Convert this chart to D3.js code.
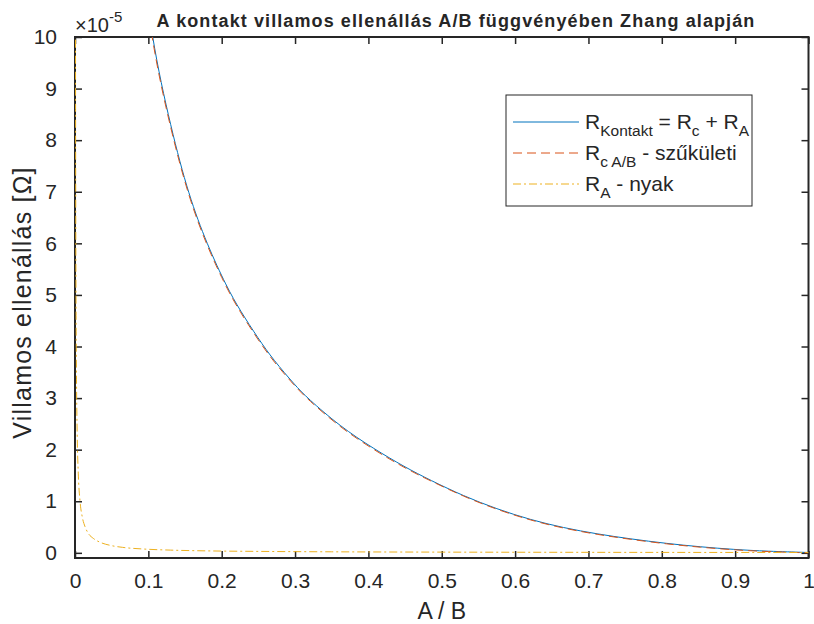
<!DOCTYPE html>
<html><head><meta charset="utf-8">
<script src="https://cdn.jsdelivr.net/npm/d3@7/dist/d3.min.js"></script>
<style>body{margin:0;background:#fff}svg{display:block}text{font-family:"Liberation Sans",Arial,sans-serif;fill:#262626}</style>
</head><body>
<script>
// Data (values in units of 1e-5 Ohm)
const xKontakt = [0.09,0.1037,0.131,0.155,0.18,0.207,0.225,0.25,0.2705,0.3,0.316,0.3615,0.407,0.45,0.484,0.53,0.575,0.621,0.666,0.712,0.757,0.807,0.853,0.898,0.944,1.0];
const rKontakt = [11.8,10.0,8.22,6.93,5.98,5.15,4.70,4.15,3.74,3.25,3.01,2.45,2.02,1.66,1.41,1.10,0.85,0.64,0.485,0.365,0.27,0.18,0.115,0.065,0.03,0.007];
const rSzukuleti = [11.72,9.93,8.17,6.89,5.94,5.12,4.67,4.12,3.71,3.23,2.99,2.43,2.00,1.64,1.40,1.09,0.84,0.63,0.475,0.355,0.261,0.171,0.107,0.057,0.023,0.0];
const xNyak = [0.0006,0.0008,0.001,0.0015,0.002,0.003,0.0045,0.0068,0.01,0.0136,0.018,0.025,0.035,0.048,0.065,0.0935,0.13,0.18,0.25,0.35,0.5,0.7,1.0];
const rNyak = [11.5,8.6,6.9,4.6,3.45,2.3,1.53,1.01,0.69,0.51,0.38,0.28,0.2,0.145,0.106,0.074,0.053,0.038,0.028,0.02,0.014,0.01,0.007];
const xTicks = [0,0.1,0.2,0.3,0.4,0.5,0.6,0.7,0.8,0.9,1];
const yTicks = [0,1,2,3,4,5,6,7,8,9,10];
const title = "A kontakt villamos ellenállás A/B függvényében Zhang alapján";
const xLabel = "A / B";
const yLabel = "Villamos ellenállás [Ω]";

const W = 814, H = 624;
const L = 75, R = 808.5, T = 37, B = 558;
const svg = d3.select("body").append("svg").attr("width", W).attr("height", H);
const x = d3.scaleLinear().domain([0, 1]).range([L, R]);
const y = d3.scaleLinear().domain([-0.1, 10]).range([B, T]);

svg.append("clipPath").attr("id", "clip").append("rect")
  .attr("x", L).attr("y", T).attr("width", R - L).attr("height", B - T);

const ink = "#262626";
function styleAxis(g) {
  g.select(".domain").remove();
  g.selectAll(".tick line").attr("stroke", ink).attr("stroke-width", 1.5);
  g.selectAll(".tick text").attr("fill", ink).style("font-size", "21px").style("font-family", '"Liberation Sans",Arial,sans-serif');
}
const fmtX = d => d === 0 ? "0" : d === 1 ? "1" : d3.format(".1f")(d);
svg.append("g").attr("transform", `translate(0,${B})`)
  .call(d3.axisBottom(x).tickValues(xTicks).tickFormat(fmtX).tickSize(-7).tickPadding(15))
  .call(styleAxis);
svg.append("g").attr("transform", `translate(0,${T})`)
  .call(d3.axisTop(x).tickValues(xTicks).tickFormat("").tickSize(-7))
  .call(styleAxis);
svg.append("g").attr("transform", `translate(${L},0)`)
  .call(d3.axisLeft(y).tickValues(yTicks).tickFormat(d3.format("d")).tickSize(-7).tickPadding(18))
  .call(styleAxis);
svg.append("g").attr("transform", `translate(${R},0)`)
  .call(d3.axisRight(y).tickValues(yTicks).tickFormat("").tickSize(-7))
  .call(styleAxis);

svg.append("rect").attr("x", L).attr("y", T).attr("width", R - L).attr("height", B - T)
  .attr("fill", "none").attr("stroke", ink).attr("stroke-width", 2);

const plot = svg.append("g").attr("clip-path", "url(#clip)");
const line = d3.line().x(d => x(d[0])).y(d => y(d[1])).curve(d3.curveBasis);
const lineN = d3.line().x(d => x(d[0])).y(d => y(d[1])).curve(d3.curveMonotoneX);
plot.append("path").datum(d3.zip(xKontakt, rKontakt)).attr("d", line)
  .attr("fill", "none").attr("stroke", "#0072BD").attr("stroke-width", 1);
plot.append("path").datum(d3.zip(xKontakt, rSzukuleti)).attr("d", line)
  .attr("fill", "none").attr("stroke", "#D95319").attr("stroke-width", 1).attr("stroke-dasharray", "9,5");
plot.append("path").datum(d3.zip(xNyak, rNyak)).attr("d", lineN)
  .attr("fill", "none").attr("stroke", "#EDB120").attr("stroke-width", 1).attr("stroke-dasharray", "8,3,2,3");

// Title & exponent
svg.append("text").attr("x", 456).attr("y", 27).attr("text-anchor", "middle")
  .style("font-size", "18px").style("font-weight", "bold").style("letter-spacing", "1.1px")
  .attr("fill", "#000").text(title);
const ex = svg.append("text").attr("x", 75).attr("y", 32).style("font-size", "20px");
ex.append("tspan").text("×10");
ex.append("tspan").attr("dy", -10).style("font-size", "15px").text("-5");

// Axis labels
svg.append("text").attr("x", (L + R) / 2).attr("y", 619).attr("text-anchor", "middle")
  .style("font-size", "23px").text(xLabel);
svg.append("text").attr("transform", `translate(31,${(T + B) / 2 + 5}) rotate(-90)`).attr("text-anchor", "middle")
  .style("font-size", "25px").style("letter-spacing", "1.2px").text(yLabel);

// Legend
const lg = svg.append("g");
lg.append("rect").attr("x", 506).attr("y", 95).attr("width", 246).attr("height", 111)
  .attr("fill", "#fff").attr("stroke", ink).attr("stroke-width", 1);
const items = [
  {c: "#0072BD", d: null, parts: [["R",0],["Kontakt",1],[" = R",0],["c",1],[" + R",0],["A",1]]},
  {c: "#D95319", d: "9,5", parts: [["R",0],["c A/B",1],[" - szűkületi",0]]},
  {c: "#EDB120", d: "8,3,2,3", parts: [["R",0],["A",1],[" - nyak",0]]}
];
const rowY = [122, 153, 184];
items.forEach((it, i) => {
  lg.append("line").attr("x1", 513).attr("x2", 579).attr("y1", rowY[i]).attr("y2", rowY[i])
    .attr("stroke", it.c).attr("stroke-width", 1).attr("stroke-dasharray", it.d);
  const t = lg.append("text").attr("x", 585).attr("y", rowY[i] + 7).style("font-size", "21px");
  let sub = 0;
  it.parts.forEach(([s, isSub]) => {
    const sp = t.append("tspan").text(s);
    if (isSub && !sub) { sp.attr("dy", 7).style("font-size", "15.5px"); sub = 1; }
    else if (isSub && sub) { sp.style("font-size", "15.5px"); }
    else if (!isSub && sub) { sp.attr("dy", -7); sub = 0; }
  });
});
</script>
</body></html>
